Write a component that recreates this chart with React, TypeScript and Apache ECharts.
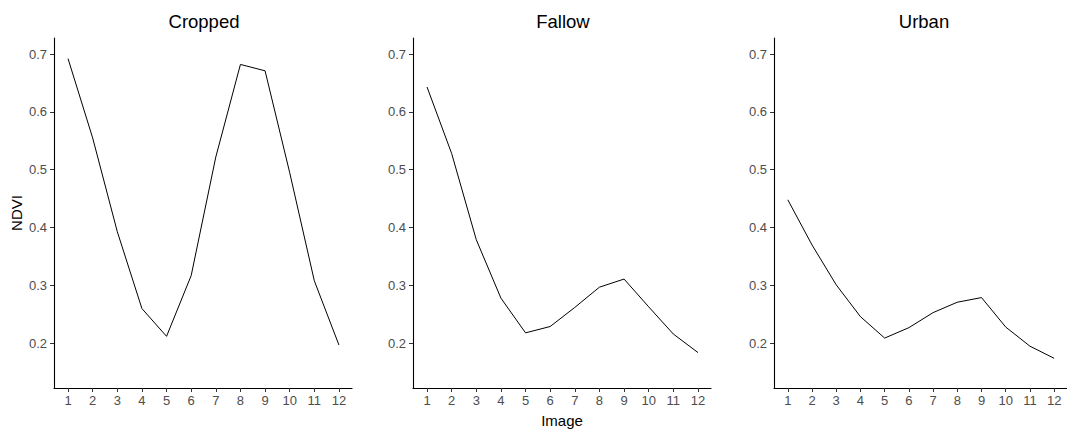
import React, { useEffect, useRef } from "react";
import * as echarts from "echarts";

const images = [1, 2, 3, 4, 5, 6, 7, 8, 9, 10, 11, 12];
const panelTitles = ["Cropped", "Fallow", "Urban"];
const cropped = [0.692, 0.555, 0.393, 0.26, 0.212, 0.317, 0.522, 0.682, 0.671, 0.495, 0.308, 0.197];
const fallow = [0.643, 0.528, 0.379, 0.278, 0.218, 0.229, 0.262, 0.297, 0.311, 0.263, 0.216, 0.184];
const urban = [0.448, 0.37, 0.301, 0.246, 0.209, 0.227, 0.253, 0.271, 0.279, 0.228, 0.195, 0.174];
const yTicks = [0.2, 0.3, 0.4, 0.5, 0.6, 0.7];
const xAxisTitle = "Image";
const yAxisTitle = "NDVI";

const seriesValues = [cropped, fallow, urban];
const FONT = "'Liberation Sans', Arial, sans-serif";
const gridLefts = [54, 413, 774];
const gridWidth = 298;
const gridTop = 38;
const gridHeight = 350;

export default function App() {
  const ref = useRef<HTMLDivElement>(null);
  useEffect(() => {
    if (!ref.current) return;
    const chart = echarts.init(ref.current, null, { renderer: "svg" });
    const grids = gridLefts.map((l) => ({ left: l, top: gridTop, width: gridWidth, height: gridHeight, containLabel: false }));
    const xAxes = gridLefts.map((_, i) => ({
      type: "value",
      gridIndex: i,
      min: 0.43,
      max: 12.53,
      axisLine: { show: true, onZero: false, lineStyle: { color: "#000", width: 1.1 } },
      axisTick: { show: true, customValues: images, length: 4, lineStyle: { color: "#333", width: 1 } },
      axisLabel: { show: true, customValues: images, color: "#4d4d4d", fontSize: 13, fontFamily: FONT, margin: 6 },
      splitLine: { show: false },
    }));
    const yAxes = gridLefts.map((_, i) => ({
      type: "value",
      gridIndex: i,
      min: 0.1227,
      max: 0.7277,
      axisLine: { show: true, onZero: false, lineStyle: { color: "#000", width: 1.1 } },
      axisTick: { show: true, customValues: yTicks, length: 4, lineStyle: { color: "#333", width: 1 } },
      axisLabel: {
        show: true,
        customValues: yTicks,
        color: "#4d4d4d",
        fontSize: 13,
        fontFamily: FONT,
        margin: 7,
        formatter: (v: number) => v.toFixed(1),
      },
      splitLine: { show: false },
    }));
    const series = seriesValues.map((vals, i) => ({
      type: "line",
      name: panelTitles[i],
      xAxisIndex: i,
      yAxisIndex: i,
      data: images.map((x, j) => [x, vals[j]]),
      showSymbol: false,
      symbol: "none",
      lineStyle: { color: "#000", width: 1 },
      silent: true,
    }));
    const titleTexts = panelTitles.map((t, i) => ({
      type: "text",
      x: gridLefts[i] + gridWidth / 2 + 1,
      y: 21.5,
      style: {
        text: t,
        fill: "#000",
        font: `18.5px ${FONT}`,
        align: "center",
        verticalAlign: "middle",
      },
    }));
    chart.setOption({
      animation: false,
      backgroundColor: "#fff",
      grid: grids,
      xAxis: xAxes,
      yAxis: yAxes,
      series,
      graphic: [
        ...titleTexts,
        {
          type: "text",
          x: 16.5,
          y: 213,
          rotation: Math.PI / 2,
          style: { text: yAxisTitle, fill: "#000", font: `15px ${FONT}`, align: "center", verticalAlign: "middle" },
        },
        {
          type: "text",
          x: 562,
          y: 420,
          style: { text: xAxisTitle, fill: "#000", font: `15px ${FONT}`, align: "center", verticalAlign: "middle" },
        },
      ],
    });
    return () => chart.dispose();
  }, []);
  return <div ref={ref} style={{ position: "fixed", left: 0, top: 0, width: 1067, height: 429 }} />;
}
